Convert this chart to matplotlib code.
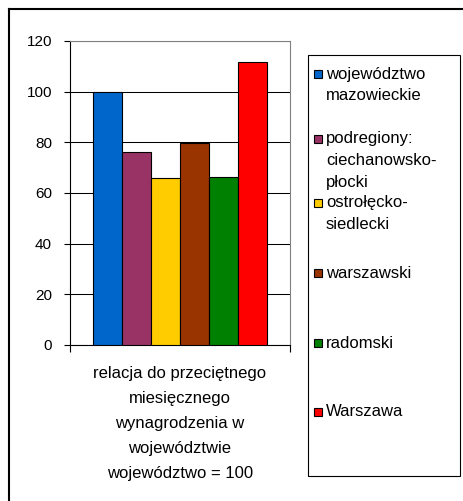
import matplotlib
matplotlib.use("Agg")
import matplotlib.pyplot as plt
from matplotlib.patches import Rectangle
from matplotlib.lines import Line2D

# ---- data ----
categories = ["województwo\nmazowieckie",
              "podregiony:\nciechanowsko-\npłocki",
              "ostrołęcko-\nsiedlecki",
              "warszawski",
              "radomski",
              "Warszawa"]
values = [100, 76.3, 65.8, 79.8, 66.4, 111.6]
colors = ["#0066CC", "#993366", "#FFCC00", "#993300", "#008000", "#FF0000"]
y_ticks = [0, 20, 40, 60, 80, 100, 120]
x_label = ("relacja do przeciętnego\nmiesięcznego\nwynagrodzenia w\n"
           "województwie\nwojewódzwo = 100").replace("wojewódzwo", "województwo")

plt.rcParams['font.family'] = ['Liberation Sans', 'DejaVu Sans']
FS_TICK = 11
FS_TEXT = 12

W, H = 463, 501
fig = plt.figure(figsize=(W / 100, H / 100), dpi=100)


def fx(px):
    return px / W


def fy(py):
    return 1 - py / H


# axes placement
ax_l, ax_r, ax_t, ax_b = 70, 290, 41, 345
ax = fig.add_axes([fx(ax_l), fy(ax_b), fx(ax_r) - fx(ax_l), fy(ax_t) - fy(ax_b)])

n = len(values)
bw = 0.1325
xs = [0.5 + (i - (n - 1) / 2) * bw for i in range(n)]
ax.bar(xs, values, width=bw, color=colors, edgecolor="black", linewidth=0.8, zorder=3)

ax.set_xlim(0, 1)
ax.set_ylim(0, 120)
ax.set_yticks(y_ticks)
ax.set_yticklabels([str(t) for t in y_ticks], fontsize=FS_TICK)
ax.set_xticks([0, 1])
ax.set_xticklabels(["", ""])
ax.tick_params(axis="y", direction="out", length=4, width=0.8, pad=9, colors="black")
ax.tick_params(axis="x", direction="out", length=5, width=0.8)
ax.yaxis.grid(True, color="black", linewidth=0.75, zorder=0)
ax.set_axisbelow(True)

ax.spines["left"].set_color("black")
ax.spines["bottom"].set_color("black")
ax.spines["top"].set_color("#808080")
ax.spines["right"].set_color("#808080")
for s in ax.spines.values():
    s.set_linewidth(0.8)

ax.set_xlabel(x_label, fontsize=FS_TEXT, linespacing=1.83, labelpad=6.5)

# outer frame (clipped by the figure edges on right/bottom)
fig.add_artist(Line2D([fx(9), fx(9)], [fy(9), fy(H + 10)], color="black", lw=1.5))
fig.add_artist(Line2D([fx(9), fx(W + 10)], [fy(9), fy(9)], color="black", lw=1.5))

# legend box
lg_l, lg_r, lg_t, lg_b = 308, 460, 55, 476
fig.add_artist(Rectangle((fx(lg_l), fy(lg_b)), fx(lg_r) - fx(lg_l), fy(lg_t) - fy(lg_b),
                         transform=fig.transFigure, facecolor="white",
                         edgecolor="black", linewidth=0.8))
entry_y = [74, 139, 203, 273, 343, 412]
pitch = 21.5
sw = 8
for lab, col, ey in zip(categories, colors, entry_y):
    fig.add_artist(Rectangle((fx(314), fy(ey + sw / 2)), fx(sw), sw / H,
                             transform=fig.transFigure, facecolor=col,
                             edgecolor="black", linewidth=0.8))
    for k, line in enumerate(lab.split("\n")):
        fig.text(fx(326), fy(ey + k * pitch), line, fontsize=FS_TEXT,
                 ha="left", va="center")

fig.savefig("out.png", dpi=100)
